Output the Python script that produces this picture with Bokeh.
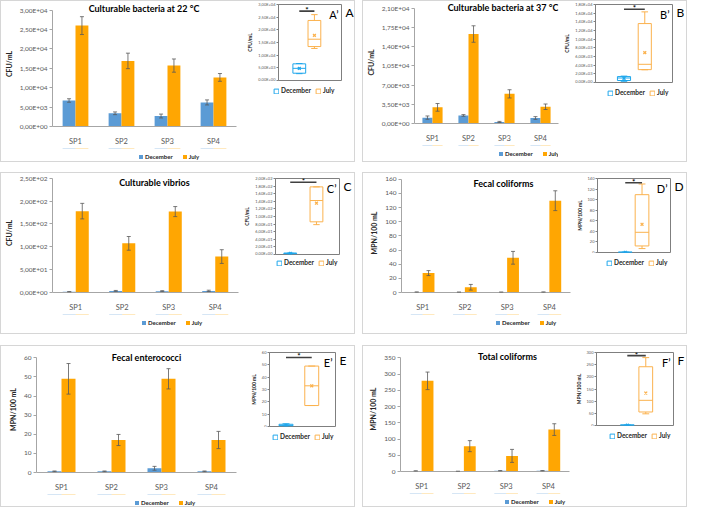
from bokeh.plotting import figure
from bokeh.models import (ColumnDataSource, FactorRange, Range1d, Whisker, TeeHead,
                          Legend, LegendItem, FixedTicker, Label, Spacer)
from bokeh.layouts import row, column
from bokeh.transform import dodge
from bokeh.embed import file_html
from bokeh.resources import INLINE

sites = ["SP1", "SP2", "SP3", "SP4"]
groups = ["December", "July"]

# ---------------- Panel A : culturable bacteria at 22 °C ----------------
a_title = "Culturable bacteria at 22 °C"
a_ylabel = "CFU/mL"
a_dec = [6700, 3400, 2700, 6200]
a_dec_err = [450, 350, 500, 650]
a_jul = [26000, 16900, 15700, 12650]
a_jul_err = [2300, 2000, 1700, 1000]
a_ticks = [0, 5000, 10000, 15000, 20000, 25000, 30000]
a_tick_labels = ["0,00E+00", "5,00E+03", "1,00E+04", "1,50E+04", "2,00E+04", "2,50E+04", "3,00E+04"]
# box stats: low whisker, Q1, median, Q3, high whisker, mean
a_box_dec = [2700, 2880, 4800, 6580, 6700, 4750]
a_box_jul = [12650, 13400, 16300, 23700, 26000, 17800]
a_sig = 27400
a_in_ticks = [0, 5000, 10000, 15000, 20000, 25000, 30000]
a_in_tick_labels = ["0,00E+00", "5,00E+03", "1,00E+04", "1,50E+04", "2,00E+04", "2,50E+04", "3,00E+04"]

# ---------------- Panel B : culturable bacteria at 37 °C ----------------
b_title = "Culturable bacteria at 37 °C"
b_ylabel = "CFU/mL"
b_dec = [1070, 1470, 280, 1000]
b_dec_err = [300, 150, 100, 250]
b_jul = [2940, 16300, 5400, 3050]
b_jul_err = [700, 1500, 750, 500]
b_ticks = [0, 3500, 7000, 10500, 14000, 17500, 21000]
b_tick_labels = ["0,00E+00", "3,50E+03", "7,00E+03", "1,05E+04", "1,40E+04", "1,75E+04", "2,10E+04"]
b_box_dec = [280, 460, 1040, 1370, 1470, 950]
b_box_jul = [2940, 2970, 4200, 13600, 16300, 6900]
b_sig = 16900
b_in_ticks = [0, 2000, 4000, 6000, 8000, 10000, 12000, 14000, 16000, 18000]
b_in_tick_labels = ["0,00E+00", "2,00E+03", "4,00E+03", "6,00E+03", "8,00E+03", "1,00E+04",
                    "1,20E+04", "1,40E+04", "1,60E+04", "1,80E+04"]

# ---------------- Panel C : culturable vibrios ----------------
c_title = "Culturable vibrios"
c_ylabel = "CFU/mL"
c_dec = [1.5, 3.5, 3.0, 3.5]
c_dec_err = [0.5, 1.0, 1.0, 1.5]
c_jul = [178, 107.5, 177, 78.6]
c_jul_err = [17, 15, 11, 15]
c_ticks = [0, 50, 100, 150, 200, 250]
c_tick_labels = ["0,00E+00", "5,00E+01", "1,00E+02", "1,50E+02", "2,00E+02", "2,50E+02"]
c_box_dec = [1.5, 1.9, 3.2, 3.5, 3.5, 2.9]
c_box_jul = [78.6, 86, 142, 178, 178, 135]
c_sig = 190
c_in_ticks = [0, 20, 40, 60, 80, 100, 120, 140, 160, 180, 200]
c_in_tick_labels = ["0,00E+00", "2,00E+01", "4,00E+01", "6,00E+01", "8,00E+01", "1,00E+02",
                    "1,20E+02", "1,40E+02", "1,60E+02", "1,80E+02", "2,00E+02"]

# ---------------- Panel D : fecal coliforms ----------------
d_title = "Fecal coliforms"
d_ylabel = "MPN/100 mL"
d_dec = [0.5, 0.4, 0.4, 0.5]
d_dec_err = [0.3, 0.2, 0.2, 0.3]
d_jul = [27.4, 7.4, 49, 129.6]
d_jul_err = [3.5, 4, 9, 14]
d_ticks = [0, 20, 40, 60, 80, 100, 120, 140, 160]
d_tick_labels = ["0", "20", "40", "60", "80", "100", "120", "140", "160"]
d_box_dec = [0.4, 0.4, 0.45, 0.5, 0.5, 0.45]
d_box_jul = [7.4, 12.4, 38.2, 109.4, 129.6, 53.4]
d_sig = 132
d_in_ticks = [0, 20, 40, 60, 80, 100, 120, 140]
d_in_tick_labels = ["0", "20", "40", "60", "80", "100", "120", "140"]

# ---------------- Panel E : fecal enterococci ----------------
e_title = "Fecal enterococci"
e_ylabel = "MPN/100 mL"
e_dec = [0.6, 0.6, 2.2, 0.6]
e_dec_err = [0.2, 0.2, 1.0, 0.2]
e_jul = [49, 17, 49, 17]
e_jul_err = [8, 2.9, 5.3, 4.5]
e_ticks = [0, 10, 20, 30, 40, 50, 60]
e_tick_labels = ["0", "10", "20", "30", "40", "50", "60"]
e_box_dec = [0.6, 0.6, 0.6, 1.8, 2.2, 1.0]
e_box_jul = [17, 17, 33, 49, 49, 33]
e_sig = 56
e_in_ticks = [0, 10, 20, 30, 40, 50, 60]
e_in_tick_labels = ["0", "10", "20", "30", "40", "50", "60"]

# ---------------- Panel F : total coliforms ----------------
f_title = "Total coliforms"
f_ylabel = "MPN/100 mL"
f_dec = [1.5, 0.5, 2.0, 2.0]
f_dec_err = [0.5, 0.3, 0.8, 0.8]
f_jul = [279, 78, 48, 129]
f_jul_err = [27, 17, 20, 18]
f_ticks = [0, 50, 100, 150, 200, 250, 300, 350]
f_tick_labels = ["0", "50", "100", "150", "200", "250", "300", "350"]
f_box_dec = [0.5, 0.75, 1.75, 2.0, 2.0, 1.5]
f_box_jul = [48, 55.5, 103.5, 241.5, 279, 133.5]
f_sig = 287
f_in_ticks = [0, 50, 100, 150, 200, 250, 300]
f_in_tick_labels = ["0", "50", "100", "150", "200", "250", "300"]

# ---------------- layout (pixel geometry of the original figure) ----------------
LAYOUT = {
    "A": dict(box=(1, 1, 363, 167), frame=(45, 242, 11, 137), inset=(275, 349, 5, 83),
              inx=(0.33, 0.57), title=(143, 9), legend=(90, 159), in_legend=(280, 91), lb=25),
    "B": dict(box=(370, 1, 702, 167), frame=(420, 592, 9, 133), inset=(599, 687, 5, 85),
              inx=(0.37, 0.64), title=(512, 8), legend=(457, 156), in_legend=(620, 93), lb=25),
    "C": dict(box=(1, 178, 363, 344), frame=(38, 245, 184, 308), inset=(272, 347, 184, 262),
              inx=(0.23, 0.64), title=(150, 188), legend=(93, 330), in_legend=(283, 268), lb=25),
    "D": dict(box=(370, 178, 702, 344), frame=(410, 592, 185, 308), inset=(605, 685, 184, 260),
              inx=(0.38, 0.61), title=(514, 189), legend=(467, 330), in_legend=(619, 268), lb=19),
    "E": dict(box=(1, 355, 363, 522), frame=(38, 242, 369, 494), inset=(272, 343, 363, 439),
              inx=(0.25, 0.64), title=(150, 369), legend=(102, 515), in_legend=(279, 447), lb=19),
    "F": dict(box=(370, 355, 702, 522), frame=(409, 600, 369, 493), inset=(604, 688, 363, 438),
              inx=(0.40, 0.64), title=(518, 368), legend=(477, 514), in_legend=(622, 446), lb=19),
}

SX = 689 / 703.0
SY = 508 / 522.0


def X(v):
    return int(round((v - 1) * SX))


def Y(v):
    return int(round((v - 1) * SY))


FONT = "Lato"
DEC = "#5B9BD5"
JUL = "#FFA602"
BOX_DEC = "#1FA7EC"
BOX_JUL = "#FBB24E"
ERR = "#595959"
AX = "#A6A6A6"
TXT = "#595959"
DARK = "#262626"
FRAME = "#D6D6D6"


def line(w, h):
    return Spacer(width=w, height=h, styles={"background-color": FRAME})


def blank_fig(W, H, x_range, y_range):
    f = figure(width=W, height=H, x_range=x_range, y_range=y_range, min_border=0,
               x_axis_location=None, y_axis_location=None,
               output_backend="svg", toolbar_location=None)
    f.outline_line_color = None
    f.grid.visible = False
    return f


def far_range(top):
    # legend strips: the swatch renderers are kept far outside the visible area
    return Range1d(-1001 * top, -1000 * top)


def make_bar(title, ylabel, dec, dec_err, jul, jul_err, ticks, tick_labels, L, W, H, LH):
    bx0, by0, bx1, by1 = L["box"]
    fl, fr, ft, fb = L["frame"]
    left, top = X(bx0) + 1, Y(by0) + 1
    src = ColumnDataSource(dict(
        site=sites, dec=dec, jul=jul,
        dec_lo=[v - e for v, e in zip(dec, dec_err)], dec_hi=[v + e for v, e in zip(dec, dec_err)],
        jul_lo=[v - e for v, e in zip(jul, jul_err)], jul_hi=[v + e for v, e in zip(jul, jul_err)]))
    frame_right = min(X(fr), left + W - 3)
    per_px = (ticks[-1] - ticks[0]) / float(Y(fb) - Y(ft))
    y_end = ticks[-1] + (Y(ft) - top) * per_px
    p = figure(x_range=FactorRange(*sites), y_range=Range1d(ticks[0], y_end),
               width=W, height=H,
               min_border_left=X(fl) - left, min_border_right=left + W - frame_right,
               min_border_top=0, min_border_bottom=top + H - Y(fb),
               output_backend="svg", toolbar_location=None)
    p.outline_line_color = None
    p.xgrid.grid_line_color = None
    p.ygrid.grid_line_color = None
    r1 = p.vbar(x=dodge("site", -0.14, range=p.x_range), top="dec", width=0.28, source=src,
                fill_color=DEC, line_color=None)
    r2 = p.vbar(x=dodge("site", 0.14, range=p.x_range), top="jul", width=0.28, source=src,
                fill_color=JUL, line_color=None)
    for o, lo, hi in ((-0.14, "dec_lo", "dec_hi"), (0.14, "jul_lo", "jul_hi")):
        w = Whisker(source=src, base=dodge("site", o, range=p.x_range), lower=lo, upper=hi,
                    line_color=ERR, line_width=0.8, level="annotation",
                    upper_head=TeeHead(size=4, line_color=ERR, line_width=0.8),
                    lower_head=TeeHead(size=4, line_color=ERR, line_width=0.8))
        p.add_layout(w)
    ya = p.yaxis[0]
    ya.ticker = FixedTicker(ticks=ticks)
    ya.bounds = (ticks[0], ticks[-1])
    ya.major_label_overrides = dict(zip(ticks, tick_labels))
    ya.minor_tick_line_color = None
    ya.major_tick_out = 3
    ya.major_tick_in = 0
    ya.axis_line_color = AX
    ya.major_tick_line_color = AX
    ya.major_label_text_font = FONT
    ya.major_label_text_font_size = "6.5px"
    ya.major_label_text_color = TXT
    ya.major_label_standoff = 2
    ya.axis_label = ylabel
    ya.axis_label_text_font = FONT
    ya.axis_label_text_font_size = "7px"
    ya.axis_label_text_font_style = "bold"
    ya.axis_label_text_color = DARK
    ya.axis_label_standoff = 4
    xa = p.xaxis[0]
    xa.axis_line_color = AX
    xa.major_tick_line_color = None
    xa.minor_tick_line_color = None
    xa.major_label_text_font = FONT
    xa.major_label_text_font_size = "7.5px"
    xa.major_label_text_color = TXT
    xa.major_label_standoff = 4
    fcx = (X(fl) + frame_right) / 2.0
    p.add_layout(Label(x=2, y=ticks[-1], text=title, text_align="center",
                       text_baseline="middle",
                       x_offset=X(L["title"][0]) - fcx, y_offset=Y(ft) - Y(L["title"][1]),
                       text_font=FONT, text_font_size="9px", text_font_style="bold",
                       text_color="#000000"))
    lg = blank_fig(W, LH, FactorRange(*sites), far_range(ticks[-1]))
    g1 = lg.vbar(x=dodge("site", -0.14, range=lg.x_range), top="dec", width=0.28, source=src,
                 fill_color=DEC, line_color=None)
    g2 = lg.vbar(x=dodge("site", 0.14, range=lg.x_range), top="jul", width=0.28, source=src,
                 fill_color=JUL, line_color=None)
    lx, ly = L["legend"]
    strip_bottom = top + H + LH
    leg = Legend(items=[LegendItem(label=groups[0], renderers=[g1]),
                        LegendItem(label=groups[1], renderers=[g2])],
                 orientation="horizontal",
                 location=(X(lx) - left, max(0, strip_bottom - (Y(ly) + 6))),
                 glyph_width=5, glyph_height=5, label_height=7, label_standoff=2, spacing=9,
                 padding=2, margin=0, border_line_color=None, background_fill_alpha=0,
                 label_text_font=FONT, label_text_font_size="6px",
                 label_text_font_style="bold", label_text_color=DARK)
    lg.add_layout(leg)
    return column(p, lg, width=W, height=H + LH)


def make_inset(key, ylabel, box_dec, box_jul, sig, ticks, tick_labels, L, W, H_total, tb,
               inner_t):
    il, ir, it, ib = L["inset"]
    fx0, fx1, fy0, fy1 = X(il), X(ir), Y(it), Y(ib)
    lb = L["lb"]
    qw = lb + (fx1 - fx0) + 1
    qh = tb + (fy1 - fy0) + 1
    q = figure(x_range=Range1d(0, 1), y_range=Range1d(ticks[0], ticks[-1]), width=qw, height=qh,
               min_border_left=lb, min_border_right=1, min_border_top=tb, min_border_bottom=1,
               x_axis_location=None, output_backend="svg", toolbar_location=None)
    q.outline_line_color = "#7F7F7F"
    q.outline_line_width = 1
    q.xgrid.grid_line_color = None
    q.ygrid.grid_line_color = None
    lw = W
    lh = 14
    lg = blank_fig(lw, lh, Range1d(0, 1), far_range(ticks[-1]))
    bw = 15.0 / (ir - il)
    rends = []
    for xc, s, c in ((L["inx"][0], box_dec, BOX_DEC), (L["inx"][1], box_jul, BOX_JUL)):
        src = ColumnDataSource(dict(x=[xc], l=[xc - bw / 2], r=[xc + bw / 2], cl=[xc - bw / 4],
                                    cr=[xc + bw / 4], lo=[s[0]], q1=[s[1]], med=[s[2]],
                                    q3=[s[3]], hi=[s[4]], mean=[s[5]]))
        q.quad(left="l", right="r", bottom="q1", top="q3", source=src, fill_alpha=0,
               line_color=c, line_width=1)
        q.segment("l", "med", "r", "med", source=src, line_color=c, line_width=1)
        q.segment("x", "q3", "x", "hi", source=src, line_color=c, line_width=1)
        q.segment("x", "lo", "x", "q1", source=src, line_color=c, line_width=1)
        q.segment("cl", "hi", "cr", "hi", source=src, line_color=c, line_width=1)
        q.segment("cl", "lo", "cr", "lo", source=src, line_color=c, line_width=1)
        q.scatter("x", "mean", source=src, marker="x", size=4, line_color=c, line_width=1.3)
        rends.append(lg.quad(left="l", right="r", bottom="q1", top="q3", source=src,
                             fill_alpha=0, line_color=c, line_width=1))
    xd, xj = L["inx"]
    q.segment(x0=[xd], y0=[sig], x1=[xj], y1=[sig], line_color="#404040", line_width=1.6)
    q.add_layout(Label(x=(xd + xj) / 2, y=sig, text="*", text_align="center",
                       text_baseline="middle", y_offset=1, text_font=FONT,
                       text_font_size="8px", text_font_style="bold", text_color="#000000"))
    q.add_layout(Label(x=1, y=ticks[-1], text=key + "\u2019", text_align="right",
                       text_baseline="top", x_offset=-3, y_offset=-3, text_font=FONT,
                       text_font_size="11px", text_color="#000000"))
    ya = q.yaxis[0]
    ya.ticker = FixedTicker(ticks=ticks)
    ya.major_label_overrides = dict(zip(ticks, tick_labels))
    ya.minor_tick_line_color = None
    ya.major_tick_out = 2
    ya.major_tick_in = 0
    ya.axis_line_color = "#7F7F7F"
    ya.major_tick_line_color = "#7F7F7F"
    ya.major_label_text_font = FONT
    ya.major_label_text_font_size = "4px"
    ya.major_label_text_color = TXT
    ya.major_label_standoff = 1
    ya.axis_label = ylabel
    ya.axis_label_text_font = FONT
    ya.axis_label_text_font_size = "5px"
    ya.axis_label_text_font_style = "bold"
    ya.axis_label_text_color = DARK
    ya.axis_label_standoff = 2
    tw = W - qw
    th = min(qh, 28)
    tf = blank_fig(tw, th, Range1d(0, 1), Range1d(0, 1))
    tf.add_layout(Label(x=0, y=1, text=key, text_align="left", text_baseline="top",
                        x_offset=3, y_offset=-tb, text_font=FONT, text_font_size="12px",
                        text_color="#000000"))
    lx, ly = L["in_legend"]
    inset_left = fx0 - lb
    strip_bottom = inner_t + qh + lh
    leg = Legend(items=[LegendItem(label=groups[0], renderers=[rends[0]]),
                        LegendItem(label=groups[1], renderers=[rends[1]])],
                 orientation="horizontal",
                 location=(X(lx) - inset_left, max(0, strip_bottom - (Y(ly) + 6))),
                 glyph_width=6, glyph_height=6, label_height=7, label_standoff=2, spacing=4,
                 padding=2, margin=0, border_line_color=None, background_fill_alpha=0,
                 label_text_font=FONT, label_text_font_size="6.5px",
                 label_text_font_style="bold", label_text_color=DARK)
    lg.add_layout(leg)
    top_row = row(q, column(tf, Spacer(width=tw, height=qh - th), width=tw, height=qh),
                  width=W, height=qh)
    return column(top_row, lg, Spacer(width=W, height=H_total - qh - lh), width=W, height=H_total)


def make_panel(key, title, ylabel, dec, dec_err, jul, jul_err, ticks, tick_labels,
               box_dec, box_jul, sig, in_ticks, in_tick_labels):
    L = LAYOUT[key]
    bx0, by0, bx1, by1 = L["box"]
    PW, PH = X(bx1) - X(bx0), Y(by1) - Y(by0)
    iw, ih = PW - 2, PH - 2
    inner_l, inner_t = X(bx0) + 1, Y(by0) + 1
    inset_left = X(L["inset"][0]) - L["lb"]
    bar_w = inset_left - inner_l
    inset_w = iw - bar_w
    tb = max(Y(L["inset"][2]) - inner_t, 1)
    strip_top = Y(L["legend"][1]) - 6
    bar_h = strip_top - inner_t
    LH = ih - bar_h
    left = make_bar(title, ylabel, dec, dec_err, jul, jul_err, ticks, tick_labels, L,
                    bar_w, bar_h, LH)
    right = make_inset(key, ylabel, box_dec, box_jul, sig, in_ticks, in_tick_labels, L,
                       inset_w, ih, tb, inner_t)
    content = row(left, right, width=iw, height=ih)
    mid = row(line(1, ih), content, line(1, ih), width=PW, height=ih)
    return column(line(PW, 1), mid, line(PW, 1), width=PW, height=PH)


panels = {}
for spec in [
    ("A", a_title, a_ylabel, a_dec, a_dec_err, a_jul, a_jul_err, a_ticks, a_tick_labels,
     a_box_dec, a_box_jul, a_sig, a_in_ticks, a_in_tick_labels),
    ("B", b_title, b_ylabel, b_dec, b_dec_err, b_jul, b_jul_err, b_ticks, b_tick_labels,
     b_box_dec, b_box_jul, b_sig, b_in_ticks, b_in_tick_labels),
    ("C", c_title, c_ylabel, c_dec, c_dec_err, c_jul, c_jul_err, c_ticks, c_tick_labels,
     c_box_dec, c_box_jul, c_sig, c_in_ticks, c_in_tick_labels),
    ("D", d_title, d_ylabel, d_dec, d_dec_err, d_jul, d_jul_err, d_ticks, d_tick_labels,
     d_box_dec, d_box_jul, d_sig, d_in_ticks, d_in_tick_labels),
    ("E", e_title, e_ylabel, e_dec, e_dec_err, e_jul, e_jul_err, e_ticks, e_tick_labels,
     e_box_dec, e_box_jul, e_sig, e_in_ticks, e_in_tick_labels),
    ("F", f_title, f_ylabel, f_dec, f_dec_err, f_jul, f_jul_err, f_ticks, f_tick_labels,
     f_box_dec, f_box_jul, f_sig, f_in_ticks, f_in_tick_labels),
]:
    panels[spec[0]] = make_panel(*spec)


def prow(k1, k2):
    L1, L2 = LAYOUT[k1], LAYOUT[k2]
    gap = X(L2["box"][0]) - X(L1["box"][2])
    w = X(L2["box"][2]) - X(L1["box"][0])
    h = Y(L1["box"][3]) - Y(L1["box"][1])
    return row(panels[k1], Spacer(width=gap, height=h), panels[k2], width=w, height=h)


gap1 = Y(LAYOUT["C"]["box"][1]) - Y(LAYOUT["A"]["box"][3])
gap2 = Y(LAYOUT["E"]["box"][1]) - Y(LAYOUT["C"]["box"][3])
W_ALL = X(LAYOUT["B"]["box"][2]) - X(LAYOUT["A"]["box"][0])
root = column(prow("A", "B"), Spacer(width=W_ALL, height=gap1), prow("C", "D"),
              Spacer(width=W_ALL, height=gap2), prow("E", "F"))

open("out.html", "w").write(file_html(root, INLINE))
